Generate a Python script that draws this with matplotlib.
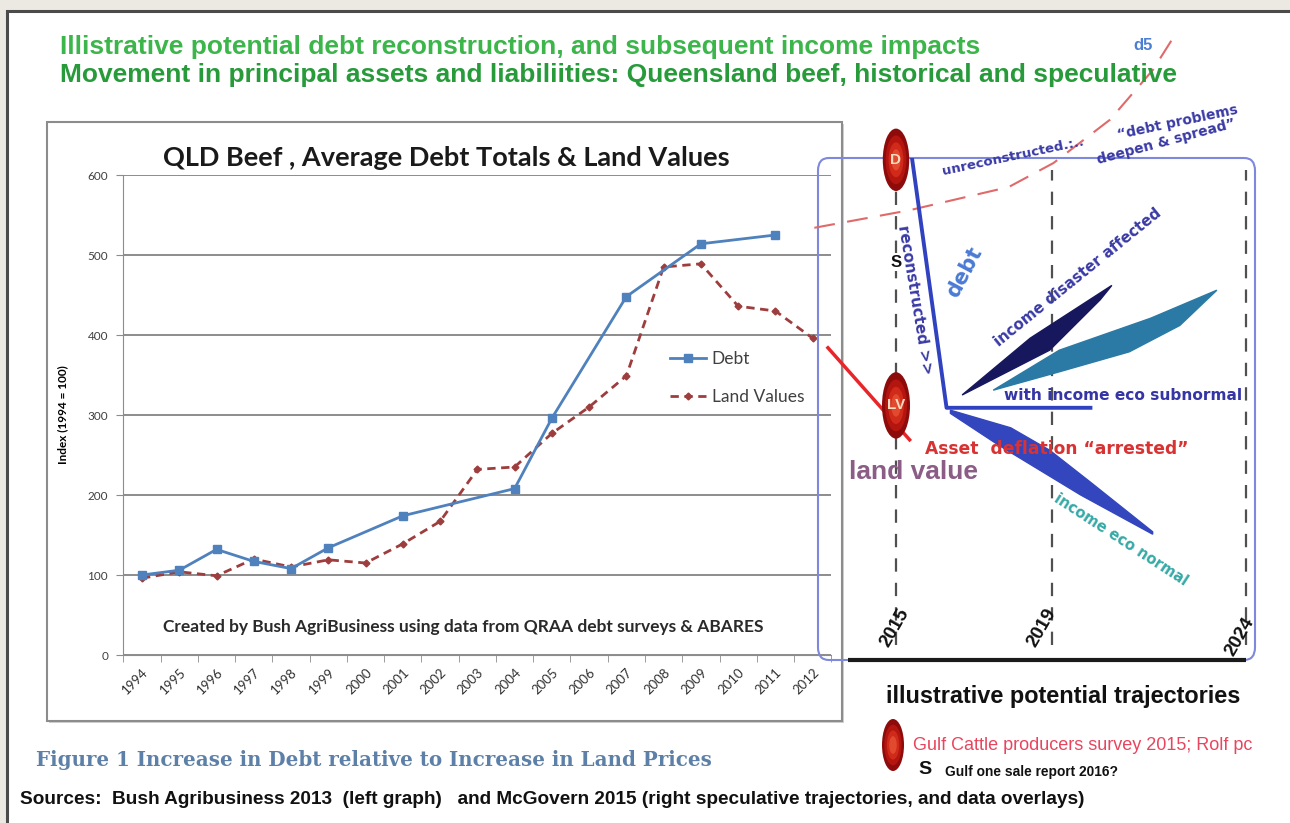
import matplotlib
matplotlib.use('Agg')
import matplotlib.pyplot as plt
from matplotlib.patches import Ellipse, Rectangle, FancyBboxPatch
import numpy as np

# --- left graph: QLD beef, index 1994 = 100 ---
years = list(range(1994, 2013))
debt_years = [1994, 1995, 1996, 1997, 1998, 1999, 2001, 2004, 2005, 2007, 2009, 2011]
debt_index = [100, 106, 132, 117, 108, 134, 174, 208, 296, 448, 514, 525]
land_index = [96, 104, 99, 120, 110, 119, 115, 139, 167, 232, 235, 277, 310, 349, 485, 489, 436, 430, 396]

# --- right panel: speculative trajectories (x = year, y = same index) ---
marker_years = [2015, 2019, 2024]
debt_unrecon_x = [2012.9, 2015.35, 2017.9, 2019.05, 2020.5, 2021.6, 2022.25]
debt_unrecon_y = [534, 556, 585, 615, 669, 731, 781]
debt_recon_x = [2015.4, 2016.3, 2020.0]
debt_recon_y = [625, 309, 309]
land_proj_x = [2013.25, 2015.35]
land_proj_y = [384, 269]
disaster_x = [2016.7, 2018.45, 2020.55, 2020.25, 2018.95]
disaster_y = [325, 396, 462, 444, 381]
subnormal_x = [2017.5, 2019.2, 2021.55, 2023.25, 2022.3, 2021.0, 2019.2]
subnormal_y = [331, 381, 421, 456, 412, 379, 354]
normal_x = [2016.4, 2017.95, 2018.95, 2020.0, 2021.6, 2021.6, 2019.75, 2018.7, 2017.65, 2016.4]
normal_y = [306, 284, 256, 216, 154, 151, 200, 231, 262, 302]
survey_x = [2015, 2015]
survey_y = [619, 312]
survey_labels = ['D', 'LV']
sale_x = [2015]
sale_y = [491]

W, H = 1290, 823


def fx(x):
    return x / W


def fy(y):
    return 1 - y / H


fig = plt.figure(figsize=(W / 100, H / 100), dpi=100, facecolor='#ece8e2')


def ptext(x, y, s, **kw):
    kw.setdefault('ha', 'center')
    kw.setdefault('va', 'center')
    kw.setdefault('rotation_mode', 'anchor')
    return fig.text(fx(x), fy(y), s, **kw)


# white page with dark frame
fig.add_artist(Rectangle((fx(7), -0.05), 1.05, fy(11) + 0.05, transform=fig.transFigure,
                         facecolor='white', edgecolor='#4b4b4b', lw=2.2, zorder=-10))
# box round the left graph
fig.add_artist(Rectangle((fx(49), fy(723)), fx(844) - fx(49), fy(124) - fy(723), transform=fig.transFigure,
                         facecolor='#d0d0d0', edgecolor='none', zorder=-9.5))
fig.add_artist(Rectangle((fx(47), fy(721)), fx(842) - fx(47), fy(122) - fy(721), transform=fig.transFigure,
                         facecolor='white', edgecolor='#8c8c8c', lw=1.5, zorder=-9))

# titles
ptext(60, 47, 'Illistrative potential debt reconstruction, and subsequent income impacts',
      ha='left', color='#3cb54a', fontsize=19, fontweight='bold', family='Liberation Sans')
ptext(60, 75, 'Movement in principal assets and liabiliities: Queensland beef, historical and speculative',
      ha='left', color='#279a3a', fontsize=19, fontweight='bold', family='Liberation Sans')
ptext(1143, 45, 'd5', color='#4a7fd4', fontsize=12, fontweight='bold', family='Liberation Sans')

# ---------------- left graph ----------------
ax = fig.add_axes([fx(123.4), fy(655), fx(831.3) - fx(123.4), fy(175) - fy(655)])
ax.set_facecolor('none')
ax.plot(debt_years, debt_index, color='#4f81bd', lw=2, marker='s', ms=6, label='Debt', zorder=4)
ax.plot(years, land_index, color='#9e3d3d', lw=2, dashes=(3, 2), marker='D', ms=3.5,
        label='Land Values', zorder=3)
ax.set_xlim(1993.5, 2012.5)
ax.set_ylim(0, 600)
ax.set_yticks(range(0, 601, 100))
ax.yaxis.grid(True, color='#8c8c8c', lw=1.4)
ax.set_axisbelow(True)
ax.spines['top'].set_visible(False)
ax.spines['right'].set_visible(False)
ax.spines['left'].set_color('#8c8c8c')
ax.spines['bottom'].set_color('#8c8c8c')
ax.set_xticks(years)
ax.set_xticklabels([str(y) for y in years], rotation=45, ha='right', va='top',
                   rotation_mode='anchor', fontsize=9.5, family='Lato', color='#303030')
ax.set_xticks(np.arange(1993.5, 2013, 1), minor=True)
ax.tick_params(axis='x', which='major', length=0, pad=8)
ax.tick_params(axis='x', which='minor', length=5, color='#8c8c8c')
ax.tick_params(axis='y', length=5, color='#8c8c8c', labelsize=8.5, labelcolor='#404040', pad=6)
for t in ax.get_yticklabels():
    t.set_family('Lato')
ax.set_ylabel('Index (1994 = 100)', fontsize=8.5, fontweight='bold', family='Lato')
ax.yaxis.set_label_coords(-0.078, 0.5)
leg = ax.legend(loc='upper left', bbox_to_anchor=(0.75, 0.665), frameon=False,
                prop={'family': 'Lato', 'size': 12.5}, handlelength=2.1, labelspacing=1.25,
                handletextpad=0.3)
for t in leg.get_texts():
    t.set_color('#404040')

ptext(446, 158, 'QLD Beef , Average Debt Totals & Land Values', fontsize=19.5, fontweight='bold',
      family='Lato', color='#1a1a1a')
ptext(463, 627, 'Created by Bush AgriBusiness using data from QRAA debt surveys & ABARES',
      fontsize=12.5, fontweight='bold', family='Lato', color='#2a2a2a')

# ---------------- right panel ----------------
ppy = 350 / 9  # pixels per year
ax2 = fig.add_axes([fx(818), fy(660), fx(1255) - fx(818), fy(158) - fy(660)])
ax2.set_xlim(2015 - (896 - 818) / ppy, 2015 + (1255 - 896) / ppy)
ax2.set_ylim(-6.25, 621.25)
ax2.axis('off')
ax2.add_patch(FancyBboxPatch((0, 0), 1, 1, boxstyle='round,pad=0,rounding_size=0.025',
                             transform=ax2.transAxes, fill=False, edgecolor='#7e88dc', lw=1.5,
                             clip_on=False, zorder=0))

for yr in marker_years:
    ax2.plot([yr, yr], [12, 606], color='#505050', lw=1.6, dashes=(6, 5), zorder=1)
ax2.plot([2013.77, 2024.0], [-6, -6], color='#1a1a1a', lw=3, clip_on=False, zorder=2,
         solid_capstyle='butt')

ax2.plot(debt_unrecon_x, debt_unrecon_y, color='#e06a6a', lw=1.5, dashes=(10, 6), clip_on=False, zorder=2)
ax2.fill(disaster_x, disaster_y, color='#17175e', zorder=3)
ax2.fill(subnormal_x, subnormal_y, color='#2b7aa5', zorder=3)
ax2.fill(normal_x, normal_y, color='#3346bd', zorder=3)
ax2.plot(debt_recon_x, debt_recon_y, color='#3142c0', lw=2.8, zorder=4)
ax2.plot(land_proj_x, land_proj_y, color='#e8262a', lw=2.5, clip_on=False, zorder=4)

shades = ['#8e0b0b', '#b5150f', '#d02a1a', '#e24a30']
for x, y, lab in zip(survey_x, survey_y, survey_labels):
    w = 0.68 if lab == 'D' else 0.72
    h = 78 if lab == 'D' else 83
    for k, c in enumerate(shades):
        f = 1 - 0.22 * k
        ax2.add_patch(Ellipse((x, y), w * f, h * f, facecolor=c, edgecolor='none', zorder=5 + k * 0.1,
                              clip_on=False))
    ax2.text(x, y, lab, ha='center', va='center', color='#f8dcc0', fontsize=11, fontweight='bold',
             family='Liberation Sans', zorder=6)
for x, y in zip(sale_x, sale_y):
    ax2.text(x, y, 'S', ha='center', va='center', color='#111111', fontsize=12, fontweight='bold',
             family='Liberation Sans', zorder=6,
             bbox=dict(facecolor='white', edgecolor='none', pad=1))

# panel annotations
blue = '#3a3aa6'
ptext(1013, 157, 'unreconstructed.:..', rotation=12, color=blue, fontsize=9.5, fontweight='bold')
ptext(1178, 122, '\u201cdebt problems', rotation=12, color=blue, fontsize=10, fontweight='bold')
ptext(1166, 142, 'deepen & spread\u201d', rotation=15, color=blue, fontsize=10, fontweight='bold')
ptext(915, 300, 'reconstructed >>', rotation=-80.5, color=blue, fontsize=11, fontweight='bold')
ptext(965, 272, 'debt', rotation=62, color='#4a7ad4', fontsize=15, fontweight='bold')
ptext(1078, 277, 'income disaster affected', rotation=39, color=blue, fontsize=10.8, fontweight='bold')
ptext(1123, 395, 'with income eco subnormal', color='#3535a5', fontsize=11.1, fontweight='bold')
ptext(1057, 449, 'Asset  deflation \u201carrested\u201d', color='#d83232', fontsize=12.3, fontweight='bold',
      zorder=2)
ptext(914, 472, 'land value', color='#8b5d86', fontsize=19, fontweight='bold', family='Liberation Sans')
ptext(1121, 540, 'income eco normal', rotation=-33, color='#36a9a6', fontsize=10.5, fontweight='bold')
for lab, x, y in [('2015', 895, 628), ('2019', 1042, 628), ('2024', 1240, 637)]:
    ptext(x, y, lab, rotation=60, color='#111111', fontsize=13.5, fontweight='bold',
          family='Liberation Sans')

# legend of the right panel
ptext(1063, 697, 'illustrative potential trajectories', color='#111111', fontsize=16.9, fontweight='bold',
      family='Liberation Sans')
for k, c in enumerate(shades):
    f = 1 - 0.22 * k
    fig.add_artist(Ellipse((fx(893), fy(745)), 22 / W * f, 52 / H * f, transform=fig.transFigure,
                           facecolor=c, edgecolor='none'))
ptext(913, 745, 'Gulf Cattle producers survey 2015; Rolf pc', ha='left', color='#e8455e', fontsize=13,
      family='Liberation Sans')
ptext(925, 770, 'S', color='#111111', fontsize=14, fontweight='bold', family='Liberation Sans')
ptext(945, 772, 'Gulf one sale report 2016?', ha='left', color='#111111', fontsize=9.9, fontweight='bold',
      family='Liberation Sans')

# captions
ptext(36, 760, 'Figure 1 Increase in Debt relative to Increase in Land Prices', ha='left', color='#5d80a8',
      fontsize=14.3, fontweight='bold', family='DejaVu Serif')
ptext(20, 800, 'Sources:  Bush Agribusiness 2013  (left graph)   and McGovern 2015 (right speculative '
      'trajectories, and data overlays)', ha='left', color='#111111', fontsize=13.7, fontweight='bold',
      family='Liberation Sans')

fig.savefig('out.png', dpi=100, facecolor=fig.get_facecolor())
